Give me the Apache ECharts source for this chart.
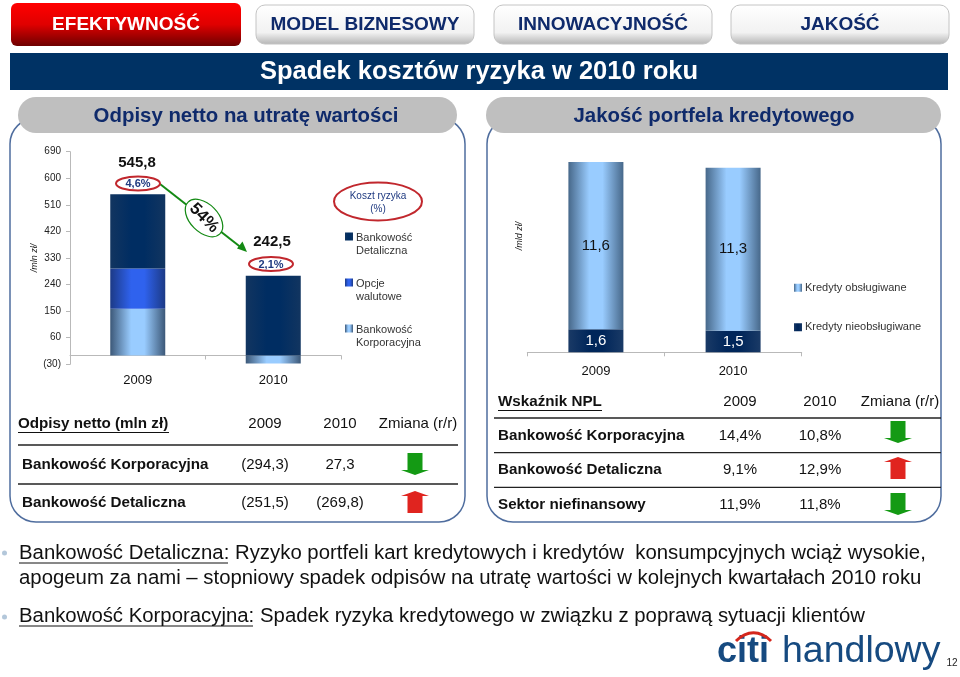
<!DOCTYPE html>
<html><head><meta charset="utf-8">
<style>html,body{margin:0;padding:0;background:#fff}#c{width:960px;height:677px}</style>
<script src="https://cdn.jsdelivr.net/npm/echarts@6/dist/echarts.min.js"></script></head>
<body><div id="c"></div>
<script>
const years = ['2009', '2010'];
const yTicks = [-30, 60, 150, 240, 330, 420, 510, 600, 690];
const korporacyjna = [158, -27.3];
const opcje = [136.3, 0];
const detaliczna = [251.5, 269.8];
const totals = ['545,8', '242,5'];
const riskCost = ['4,6%', '2,1%'];
const obslugiwane = [11.6, 11.3];
const nieobslugiwane = [1.6, 1.5];
const tabs = ['EFEKTYWNOŚĆ', 'MODEL BIZNESOWY', 'INNOWACYJNOŚĆ', 'JAKOŚĆ'];
const leftHead = ['Odpisy netto (mln zł)', '2009', '2010', 'Zmiana (r/r)'];
const leftRows = [
  ['Bankowość Korporacyjna', '(294,3)', '27,3', 'down'],
  ['Bankowość Detaliczna', '(251,5)', '(269,8)', 'up']
];
const rightHead = ['Wskaźnik NPL', '2009', '2010', 'Zmiana (r/r)'];
const rightRows = [
  ['Bankowość Korporacyjna', '14,4%', '10,8%', 'down'],
  ['Bankowość Detaliczna', '9,1%', '12,9%', 'up'],
  ['Sektor niefinansowy', '11,9%', '11,8%', 'down']
];

const FF = '"Liberation Sans", Arial, sans-serif';
const NAVY = '#0f2a6b', RED = '#c1272d', GRID = '#b9b9b9';
const hGrad = (edge, mid) => ({type:'linear',x:0,y:0,x2:1,y2:0,colorStops:[
  {offset:0,color:edge},{offset:.38,color:mid},{offset:.62,color:mid},{offset:1,color:edge}]});
const vGrad = stops => ({type:'linear',x:0,y:0,x2:0,y2:1,colorStops:stops.map((c,i)=>({offset:c[0],color:c[1]}))});
const g = [];
const T = (text,x,y,font,fill,align,extra) => g.push(Object.assign({type:'text',z:20,style:{text,x,y,font:font+' '+FF,fill:fill||'#111',align:align||'center',verticalAlign:'middle'}},extra||{}));
const R = (x,y,w,h,r,fill,stroke,lw,z) => g.push({type:'rect',z:z||1,shape:{x,y,width:w,height:h,r},style:{fill,stroke,lineWidth:lw||1}});
const L = (x1,y1,x2,y2,c,lw,z) => g.push({type:'line',z:z||5,shape:{x1,y1,x2,y2},style:{stroke:c,lineWidth:lw||1}});
const E = (cx,cy,rx,ry,stroke,lw,rot) => g.push({type:'ellipse',z:10,x:cx,y:cy,rotation:rot||0,shape:{cx:0,cy:0,rx,ry},style:{fill:'#fff',stroke,lineWidth:lw}});
const arrow = (cx,top,dir) => {
  const c = dir==='down'?'#149a14':'#e0241f', h=22, s=7.5, hw=14, hh=5;
  const p = dir==='down'
    ? [[cx-s,top],[cx+s,top],[cx+s,top+h-hh],[cx+hw,top+h-hh],[cx,top+h],[cx-hw,top+h-hh],[cx-s,top+h-hh]]
    : [[cx,top],[cx+hw,top+hh],[cx+s,top+hh],[cx+s,top+h],[cx-s,top+h],[cx-s,top+hh],[cx-hw,top+hh]];
  g.push({type:'polygon',z:10,shape:{points:p},style:{fill:c}});
};

// tabs
R(11,3,230,43,6,vGrad([[0,'#ff0000'],[.5,'#e00000'],[1,'#6e0000']]),'none',0);
[[256,218],[494,218],[731,218]].forEach(a=>R(a[0],5,a[1],39,9,vGrad([[0,'#ffffff'],[.7,'#f2f2f2'],[1,'#b4b4b4']]),'#c4c4c4',1));
T(tabs[0],126,25,'bold 19px','#fff');
T(tabs[1],365,25,'bold 19px',NAVY);
T(tabs[2],603,25,'bold 19px',NAVY);
T(tabs[3],840,25,'bold 19px',NAVY);
// banner
R(10,53,938,37,0,'#003264','none',0);
T('Spadek kosztów ryzyka w 2010 roku',479,72,'bold 25.5px','#fff');
// panels
R(10,118,455,404,26,'#fff','#4f6d9e',1.5,1);
R(487,118,454,404,26,'#fff','#4f6d9e',1.5,1);
R(18,97,439,36,18,'#bfbfbf','none',0,3);
R(486,97,455,36,18,'#bfbfbf','none',0,3);
T('Odpisy netto na utratę wartości',246,116,'bold 20.4px',NAVY);
T('Jakość portfela kredytowego',714,116,'bold 20.4px',NAVY);

// left annotations
T(totals[0],137,163,'bold 15px','#111');
T(totals[1],272,242,'bold 15px','#111');
E(138,183.5,22,7,RED,2);
E(271,264,22,7,RED,2);
T(riskCost[0],138,184,'bold 11px','#1f3a80');
T(riskCost[1],271,264.5,'bold 11px','#1f3a80');
E(378,201.5,44,19,RED,2);
T('Koszt ryzyka',378,196,'10px','#1f3a80');
T('(%)',378,209,'10px','#1f3a80');
L(160,184,243,249,'#148a14',2,6);
g.push({type:'polygon',z:6,shape:{points:[[247,252],[237,248.5],[242.5,241.5]]},style:{fill:'#148a14'}});
E(204,218,22.5,14,'#148a14',1.2,-Math.PI/4);
T('54%',204,218,'bold 17px','#111','center',{rotation:-Math.PI/4,x:0,y:0,originX:204,originY:218});

// right axis caption
T('/mld zł/',519,236,'italic 9px','#222','center',{rotation:Math.PI/2,originX:519,originY:236});

// left table
const lx=[18,265,340,418], ly=[424,465,503];
T(leftHead[0],lx[0],ly[0],'bold 15.2px','#111','left');
L(18,432.5,169,432.5,'#111',1);
T(leftHead[1],lx[1],ly[0],'15px');T(leftHead[2],lx[2],ly[0],'15px');T(leftHead[3],lx[3],ly[0],'15px');
L(18,445,458,445,'#222',1.5);L(18,484,458,484,'#222',1.5);
leftRows.forEach((r,i)=>{
  T(r[0],22,ly[i+1],'bold 15.2px','#111','left');
  T(r[1],lx[1],ly[i+1],'15px');T(r[2],lx[2],ly[i+1],'15px');
  arrow(415,[453,491][i],r[3]);
});
// right table
const rx=[498,740,820,900], ry=[402,436,470,505];
T(rightHead[0],rx[0],ry[0],'bold 15.2px','#111','left');
L(498,410.5,602,410.5,'#111',1);
T(rightHead[1],rx[1],ry[0],'15px');T(rightHead[2],rx[2],ry[0],'15px');T(rightHead[3],rx[3],ry[0],'15px');
L(494,418,941,418,'#222',1.5);L(494,452.7,941,452.7,'#222',1.2);L(494,487.3,941,487.3,'#222',1.2);
rightRows.forEach((r,i)=>{
  T(r[0],498,ry[i+1],'bold 15.2px','#111','left');
  T(r[1],rx[1],ry[i+1],'15px');T(r[2],rx[2],ry[i+1],'15px');
  arrow(898,[421,457,493][i],r[3]);
});
// bullets
g.push({type:'circle',z:5,shape:{cx:4.5,cy:553,r:2.5},style:{fill:'#b3c7da'}});
g.push({type:'circle',z:5,shape:{cx:4.5,cy:617,r:2.5},style:{fill:'#b3c7da'}});
T('Bankowość Detaliczna:',19,553,'20.35px','#111','left');
L(19,563,228,563,'#111',1);
T('Ryzyko portfeli kart kredytowych i kredytów  konsumpcyjnych wciąż wysokie,',235,553,'20.35px','#111','left');
T('apogeum za nami – stopniowy spadek odpisów na utratę wartości w kolejnych kwartałach 2010 roku',19,578,'20.35px','#111','left');
T('Bankowość Korporacyjna:',19,616,'20.35px','#111','left');
L(19,626,253,626,'#111',1);
T('Spadek ryzyka kredytowego w związku z poprawą sytuacji klientów',260,616,'20.35px','#111','left');
// logo
T('citi',717,652,'bold 36px','#164a80','left');
T('handlowy',782,652,'37.5px','#164a80','left');
g.push({type:'bezierCurve',z:25,shape:{x1:736,y1:641,x2:771,y2:641,cpx1:747,cpy1:630,cpx2:760,cpy2:630},style:{stroke:'#d4261c',lineWidth:3,fill:'none'}});
T('12',952,663,'10px','#222');

const bar = (name,data,color,grid,extra) => Object.assign({type:'bar',name,data,xAxisIndex:grid,yAxisIndex:grid,stack:'s'+grid,barWidth:55,itemStyle:{color},z:3},extra||{});
const lab = color => ({show:true,position:'inside',color,fontFamily:FF,fontSize:15,formatter:p=>String(p.value).replace('.',',')});
const xAxisCommon = {type:'category',z:2,data:years,axisLine:{lineStyle:{color:GRID}},axisTick:{show:true,length:4,lineStyle:{color:GRID}},
  axisLabel:{color:'#111',fontFamily:FF,fontSize:13}};
const legendCommon = {orient:'vertical',padding:0,selectedMode:false,textStyle:{fontFamily:FF,fontSize:11,color:'#333',lineHeight:13.5,padding:[0,0,0,-2]}};

const chart = echarts.init(document.getElementById('c'),null,{renderer:'canvas'});
chart.setOption({
  animation:false,
  backgroundColor:'#fff',
  tooltip:{show:false},
  grid:[{left:70,top:151.7,width:271,height:212.6},{left:527.3,top:162,width:274.4,height:190.3}],
  xAxis:[
    Object.assign({},xAxisCommon,{gridIndex:0,axisLabel:Object.assign({},xAxisCommon.axisLabel,{margin:10})}),
    Object.assign({},xAxisCommon,{gridIndex:1,axisLabel:Object.assign({},xAxisCommon.axisLabel,{margin:13})})
  ],
  yAxis:[
    {type:'value',z:2,gridIndex:0,min:-30,max:690,name:'/mln zł/',nameLocation:'middle',nameRotate:90,nameGap:27,
     nameTextStyle:{fontFamily:FF,fontSize:9,fontStyle:'italic',color:'#222'},
     axisLine:{show:true,lineStyle:{color:GRID}},
     axisTick:{show:true,length:4,lineStyle:{color:GRID},customValues:yTicks},
     splitLine:{show:false},
     axisLabel:{customValues:yTicks,color:'#222',fontFamily:FF,fontSize:10,margin:9,formatter:v=>v<0?'('+(-v)+')':String(v)}},
    {type:'value',gridIndex:1,min:0,max:13.2,show:false}
  ],
  legend:[
    Object.assign({},legendCommon,{left:345,top:231,itemWidth:8,itemHeight:24,itemGap:19,icon:'path://M0 0H1V1H0Z M0 3L1 3Z',
      data:['Bankowość Detaliczna','Opcje walutowe','Bankowość Korporacyjna'],
      formatter:n=>n.replace(' ','\n')}),
    Object.assign({},legendCommon,{left:794,top:281,itemWidth:8,itemHeight:8,itemGap:26,icon:'rect',
      data:['Kredyty obsługiwane','Kredyty nieobsługiwane']})
  ],
  series:[
    bar('Bankowość Korporacyjna',korporacyjna,hGrad('#3c5878','#99ccff'),0),
    bar('Opcje walutowe',opcje,hGrad('#1c3a86','#2f62ee'),0),
    bar('Bankowość Detaliczna',detaliczna,hGrad('#123560','#002d62'),0),
    bar('Kredyty nieobsługiwane',nieobslugiwane,hGrad('#1a3a66','#00265a'),1,{label:lab('#fff')}),
    bar('Kredyty obsługiwane',obslugiwane,hGrad('#47688a','#99ccff'),1,{label:lab('#111')})
  ],
  graphic:{elements:g}
});
</script></body></html>
